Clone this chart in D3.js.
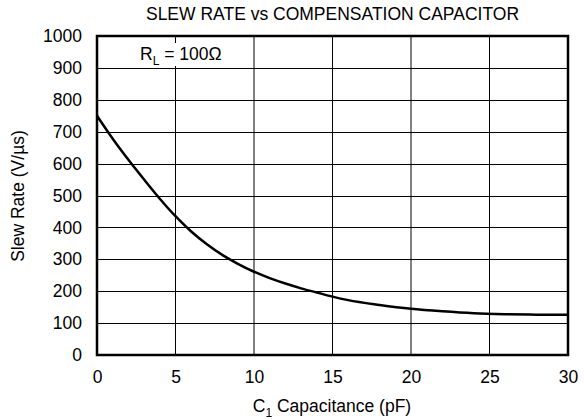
<!DOCTYPE html>
<html><head><meta charset="utf-8">
<script src="https://cdn.jsdelivr.net/npm/d3@7"></script>
<style>body{margin:0;background:#fff}svg{display:block;font-family:"Liberation Sans",Arial,sans-serif}</style>
</head><body>
<svg id="c" width="584" height="419"></svg>
<script>
const capacitance = [0,1,2,3,4,5,6,7,8,9,10,11,12,13,14,15,16,18,20,22,24,26,28,30];
const slewRate =    [750,678,612,550,490,435,387,347,313,285,261,241,224,209,196,183,172,157,145,137,131,128,126.5,126];
const xTicks = [0,5,10,15,20,25,30];
const yTicks = [0,100,200,300,400,500,600,700,800,900,1000];

const FS = 17.5;
const svg = d3.select("#c");
const x = d3.scaleLinear().domain([0,30]).range([97,568]);
const y = d3.scaleLinear().domain([0,1000]).range([355,36]);

// grid
svg.append("g").selectAll("line").data(xTicks.slice(1,-1)).join("line")
  .attr("x1",d=>x(d)).attr("x2",d=>x(d))
  .attr("y1",y(1000)).attr("y2",y(0)).attr("stroke","#000").attr("stroke-width",1);
svg.append("g").selectAll("line").data(yTicks.slice(1,-1)).join("line")
  .attr("y1",d=>Math.round(y(d))+0.5).attr("y2",d=>Math.round(y(d))+0.5)
  .attr("x1",x(0)).attr("x2",x(30)).attr("stroke","#000").attr("stroke-width",1);

// label box
svg.append("rect").attr("x",132).attr("y",43).attr("width",100).attr("height",23).attr("fill","#fff");
const rl = svg.append("text").attr("x",140).attr("y",60).attr("font-size",FS).attr("fill","#000");
rl.append("tspan").text("R");
rl.append("tspan").attr("font-size",12).attr("dy",5).text("L");
rl.append("tspan").attr("dy",-5).text(" = 100Ω");

// curve
const line = d3.line().x((d,i)=>x(capacitance[i])).y(d=>y(d)).curve(d3.curveMonotoneX);
svg.append("path").datum(slewRate).attr("d",line).attr("fill","none")
  .attr("stroke","#000").attr("stroke-width",2.5);

// frame
svg.append("rect").attr("x",x(0)).attr("y",y(1000)).attr("width",x(30)-x(0)).attr("height",y(0)-y(1000))
  .attr("fill","none").attr("stroke","#000").attr("stroke-width",2.5);

// axes
const xa = svg.append("g").attr("transform",`translate(0,${y(0)})`)
  .call(d3.axisBottom(x).tickValues(xTicks).tickSize(0).tickPadding(16).tickFormat(d3.format("d")));
const ya = svg.append("g").attr("transform",`translate(${x(0)},0)`)
  .call(d3.axisLeft(y).tickValues(yTicks).tickSize(0).tickPadding(15).tickFormat(d3.format("d")));
[xa,ya].forEach(a=>{a.select(".domain").remove();a.selectAll("text").attr("font-size",FS).attr("font-family","Liberation Sans, Arial, sans-serif").attr("fill","#000");});

// title
svg.append("text").attr("x",332.5).attr("y",20).attr("text-anchor","middle").attr("font-size",17.5)
  .text("SLEW RATE vs COMPENSATION CAPACITOR");

// x label
const xl = svg.append("text").attr("x",332).attr("y",412).attr("text-anchor","middle").attr("font-size",FS);
xl.append("tspan").text("C");
xl.append("tspan").attr("font-size",12).attr("dy",5).text("1");
xl.append("tspan").attr("dy",-5).text(" Capacitance (pF)");

// y label
svg.append("text").attr("transform","translate(24,196) rotate(-90)").attr("text-anchor","middle")
  .attr("font-size",FS).text("Slew Rate (V/µs)");
</script>
</body></html>
